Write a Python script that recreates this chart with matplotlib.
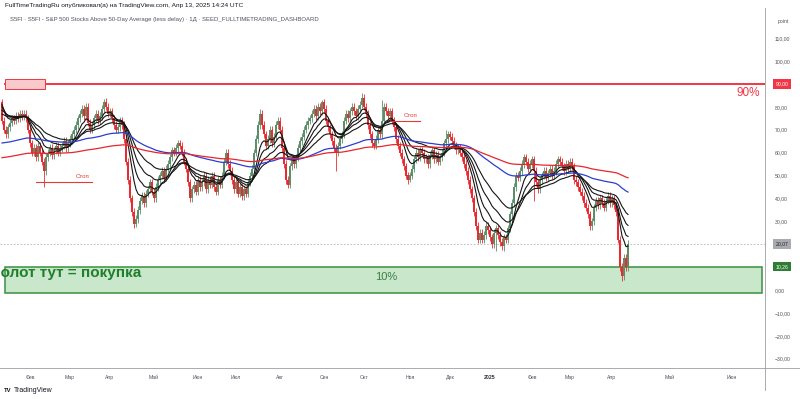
import matplotlib
matplotlib.use("Agg")
import matplotlib.pyplot as plt
from matplotlib.patches import Rectangle
import matplotlib.transforms as mtrans

plt.rcParams['font.family'] = ['Liberation Sans', 'DejaVu Sans']

# ---------------- data ----------------
first_bar = -14          # bar index of first candle (Feb 1 2024 = 0)
first_open = 82.0
closes = [
    74, 70, 68, 71, 73, 75, 74, 76, 75, 77,
    76, 77, 75, 70, 64, 60, 62, 58, 63, 60,
    56, 52, 58, 60, 62, 59, 61, 63, 60, 62,
    63, 65, 62, 64, 66, 68, 70, 72, 75, 77,
    79, 76, 80, 73, 70, 72, 75, 77, 74, 76,
    79, 82, 80, 77, 78, 75, 72, 70, 71, 74,
    72, 66, 56, 48, 40, 34, 29, 31, 35, 39,
    41, 38, 42, 44, 47, 43, 40, 45, 48, 50,
    52, 49, 53, 55, 58, 61, 60, 62, 64, 63,
    60, 56, 53, 47, 40, 44, 46, 43, 48, 45,
    47, 50, 44, 48, 46, 50, 45, 43, 48, 46,
    50, 56, 60, 55, 52, 48, 44, 47, 42, 45,
    41, 44, 42, 47, 50, 53, 60, 66, 72, 77,
    72, 68, 63, 66, 70, 64, 67, 72, 74, 70,
    62, 55, 48, 46, 54, 57, 55, 58, 62, 65,
    67, 70, 72, 74, 75, 77, 79, 76, 80, 78,
    82, 79, 74, 71, 68, 65, 62, 60, 63, 66,
    68, 74, 77, 75, 78, 80, 78, 76, 79, 81,
    84, 80, 77, 72, 68, 64, 63, 66, 70, 68,
    74, 80, 78, 76, 78, 74, 71, 66, 63, 60,
    57, 54, 50, 48, 50, 53, 57, 60, 58, 61,
    60, 57, 58, 55, 59, 61, 57, 59, 56, 58,
    60, 64, 66, 68, 67, 65, 63, 61, 62, 60,
    58, 55, 52, 48, 44, 40, 34, 28, 22, 25,
    22, 24, 28, 26, 23, 20, 25, 27, 24, 21,
    19, 23, 22, 27, 33, 38, 45, 50, 49, 52,
    55, 58, 56, 53, 55, 57, 52, 47, 44, 48,
    50, 52, 49, 51, 53, 50, 52, 55, 57, 56,
    54, 52, 55, 53, 56, 54, 48, 47, 45, 43,
    41, 38, 36, 33, 28, 30, 36, 39, 37, 40,
    38, 36, 39, 41, 38, 40, 37, 34, 22, 10,
    6, 14, 10, 20.07,
]
spike_high = {38: 84, 115: 79, 146: 83, 166: 86, 176: 83, 208: 70}
spike_low = {7: 45, 52: 27, 153: 52, 190: 47, 233: 17, 237: 17, 252: 39, 296: 4}

# moving averages: (period, value at first bar)
ema_black = [(8, 83.0), (13, 81.0), (21, 79.0), (34, 77.0)]
ema_blue = (100, 64.0)
ema_red = (200, 57.6)

month_labels = ['Фев', 'Мар', 'Апр', 'Май', 'Июн', 'Июл', 'Авг', 'Сен', 'Окт',
                'Ноя', 'Дек', '2025', 'Фев', 'Мар', 'Апр', 'Май', 'Июн']
month_bars = [0, 20, 40, 62, 84, 103, 125, 147, 167, 190, 210, 230, 251, 270,
              291, 320, 351]

level_90 = 90.0
level_last = 20.07
zone_top = 10.26
zone_bottom = -1.2
stop1 = 47.0
stop2 = 73.8

# ---------------- figure ----------------
W, H = 800, 399
fig = plt.figure(figsize=(W / 100, H / 100), dpi=100)
fig.patch.set_facecolor('white')

AX_L, AX_R, AX_T, AX_B = 0, 765, 28, 368
ax = fig.add_axes([AX_L / W, 1 - AX_B / H, (AX_R - AX_L) / W, (AX_B - AX_T) / H])
ax.set_facecolor('white')


def px2bar(px):
    return (px - 30) / 2.0


def py2val(py):
    return (290 - py) / 2.29


ax.set_xlim(px2bar(AX_L), px2bar(AX_R))
ax.set_ylim(py2val(AX_B), py2val(AX_T))
for s in ax.spines.values():
    s.set_visible(False)

# candles
xs = [first_bar + i for i in range(len(closes))]
opens = [first_open] + closes[:-1]
UP, DN = '#5b8f69', '#ea2a2f'
cols, bottoms, heights, highs, lows = [], [], [], [], []
for i, (o, c) in enumerate(zip(opens, closes)):
    b = xs[i]
    lo, hi = min(o, c), max(o, c)
    cols.append(UP if c >= o else DN)
    bottoms.append(lo)
    heights.append(max(hi - lo, 0.4))
    highs.append(spike_high.get(b, hi + 1.6))
    lows.append(spike_low.get(b, lo - 1.6))
ax.vlines(xs, lows, highs, colors=cols, linewidth=0.6, zorder=2)
ax.bar(xs, heights, bottom=bottoms, width=0.8, color=cols, linewidth=0, zorder=2)


def ema(vals, period, seed):
    a = 2.0 / (period + 1)
    out, e = [], seed
    for v in vals:
        e = e + a * (v - e)
        out.append(e)
    return out


for p, s in ema_black:
    ax.plot(xs, ema(closes, p, s), color='#151515', lw=0.8, zorder=3)
ax.plot(xs, ema(closes, *ema_blue), color='#2a3fd0', lw=0.9, zorder=3)
ax.plot(xs, ema(closes, *ema_red), color='#e8262b', lw=0.9, zorder=3)

# levels and drawings
ax.axhline(level_90, xmin=5 / 765, color='#f23645', lw=1.4, zorder=4)
ax.add_patch(Rectangle((px2bar(5), py2val(89)), px2bar(45) - px2bar(5),
                       py2val(79) - py2val(89), facecolor='#f9c9cc',
                       edgecolor='#f23645', lw=0.7, zorder=4))
ax.axhline(level_last, color='#b5b5b5', lw=0.6, ls=(0, (2, 2)), zorder=1)
ax.add_patch(Rectangle((px2bar(5), zone_bottom), px2bar(762) - px2bar(5),
                       zone_top - zone_bottom, facecolor='#c9e7ca',
                       edgecolor='#3b8f40', lw=1.1, zorder=1))

ax.plot([px2bar(36), px2bar(92)], [stop1, stop1], color='#e53935', lw=0.8, zorder=4)
ax.text(px2bar(90), stop1 + 1.3, 'Стоп', color='#e53935', fontsize=4.4,
        ha='right', va='bottom', zorder=4)
ax.plot([px2bar(390), px2bar(420)], [stop2, stop2], color='#e53935', lw=0.8, zorder=4)
ax.text(px2bar(418), stop2 + 1.3, 'Стоп', color='#e53935', fontsize=4.4,
        ha='right', va='bottom', zorder=4)

ax.text(px2bar(748), py2val(93), '90%', color='#f23645', fontsize=8.5,
        ha='center', va='center', zorder=5)
ax.text(px2bar(386), py2val(277), '10%', color='#3a7d44', fontsize=8,
        ha='center', va='center', zorder=5)
fig.text(-9 / W, 1 - 273 / H, 'Золот тут = покупка', color='#1f7f2a',
         fontsize=11.0, fontweight='bold', ha='left', va='center')

# y axis (right)
ticks = [110, 100, 80, 70, 60, 50, 40, 30, 0, -10, -20, -30]
ax.yaxis.tick_right()
ax.set_yticks(ticks)
ax.set_yticklabels([f"{t:.2f}".replace('.', ',').replace('-', '\u2212') for t in ticks])
ax.tick_params(axis='y', length=0, pad=7, labelsize=3.7, labelcolor='#50535e')
ax.tick_params(axis='x', length=0, pad=5, labelsize=3.7, labelcolor='#50535e')
ax.set_xticks(month_bars)
ax.set_xticklabels(month_labels)
for lbl in ax.get_xticklabels():
    if lbl.get_text() == '2025':
        lbl.set_fontweight('bold')
        lbl.set_color('#2a2e39')

trans = mtrans.blended_transform_factory(ax.transAxes, ax.transData)
for val, fc, tc in [(level_90, '#f23645', 'white'), (level_last, '#a9abb0', '#222222'),
                    (zone_top, '#2e7d32', 'white')]:
    ax.text(782 / 765, val, f"{val:.2f}".replace('.', ','), transform=trans,
            ha='center', va='center', fontsize=3.7, color=tc, clip_on=False,
            bbox=dict(boxstyle='square,pad=0.45', fc=fc, ec='none'))
fig.text(783 / W, 1 - 21 / H, 'point', fontsize=3.7, color='#50535e', ha='center',
         va='center')

# frame lines
fig.add_artist(plt.Line2D([0, 1], [1 - 368 / H, 1 - 368 / H], color='#9a9da5', lw=0.6))
fig.add_artist(plt.Line2D([765 / W, 765 / W], [1 - 390 / H, 1 - 8 / H], color='#9a9da5',
                          lw=0.6))

# header / footer
fig.text(5 / W, 1 - 6 / H,
         'FullTimeTradingRu опубликовал(а) на TradingView.com, Апр 13, 2025 14:24 UTC',
         fontsize=4.65, color='#131722', ha='left', va='center')
fig.text(10 / W, 1 - 20 / H,
         'S5FI · S5FI - S&P 500 Stocks Above 50-Day Average (less delay) · 1Д · '
         'SEED_FULLTIMETRADING_DASHBOARD',
         fontsize=4.3, color='#50535e', ha='left', va='center')
fig.text(4 / W, 1 - 391 / H, 'TV', fontsize=4.2, fontweight='bold', color='#131722',
         ha='left', va='center')
fig.text(13.5 / W, 1 - 391 / H, 'TradingView', fontsize=5.0, color='#131722',
         ha='left', va='center')

fig.savefig('out.png', dpi=100, facecolor='white')
